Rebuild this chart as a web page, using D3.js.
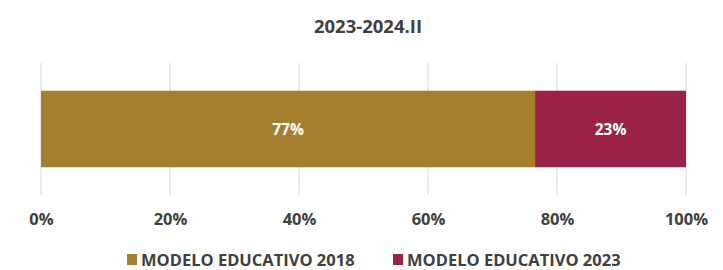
<!DOCTYPE html>
<html>
<head>
<meta charset="utf-8">
<script src="https://cdn.jsdelivr.net/npm/d3@7"></script>
<style>
  body { margin: 0; background: #fff; }
  svg { font-family: "Open Sans", sans-serif; font-weight: bold; }
</style>
</head>
<body>
<svg id="chart"></svg>
<script>
const title = "2023-2024.II";
const seriesNames = ["MODELO EDUCATIVO 2018", "MODELO EDUCATIVO 2023"];
const seriesValues = [76.6, 23.4];
const seriesLabels = ["77%", "23%"];
const seriesColors = ["#A57F2D", "#9A2246"];
const xTicks = [0, 20, 40, 60, 80, 100];

const width = 723, height = 270;
const margin = { top: 63, right: 37, bottom: 75, left: 41 };

const svg = d3.select("#chart").attr("width", width).attr("height", height);

const x = d3.scaleLinear().domain([0, 100]).range([margin.left, width - margin.right]);
const y = d3.scaleBand().domain(["row"]).range([margin.top, height - margin.bottom]).paddingInner(0.42).paddingOuter(0.21);

svg.append("text")
  .attr("x", 368).attr("y", 33)
  .attr("text-anchor", "middle")
  .attr("font-size", 18.5)
  .attr("fill", "#404040")
  .text(title);

// gridlines
svg.append("g")
  .selectAll("line")
  .data(xTicks)
  .join("line")
  .attr("x1", d => x(d)).attr("x2", d => x(d))
  .attr("y1", margin.top).attr("y2", height - margin.bottom)
  .attr("stroke", "#d9d9d9").attr("stroke-width", 1);

// stacked segments
let acc = 0;
const segs = seriesValues.map((v, i) => {
  const s = { start: acc, end: acc + v, i };
  acc += v;
  return s;
});

svg.append("g")
  .selectAll("rect")
  .data(segs)
  .join("rect")
  .attr("x", d => x(d.start))
  .attr("width", d => x(d.end) - x(d.start))
  .attr("y", y("row"))
  .attr("height", y.bandwidth())
  .attr("fill", d => seriesColors[d.i]);

svg.append("g")
  .selectAll("text")
  .data(segs)
  .join("text")
  .attr("x", d => (x(d.start) + x(d.end)) / 2)
  .attr("y", y("row") + y.bandwidth() / 2)
  .attr("dy", "0.36em")
  .attr("text-anchor", "middle")
  .attr("font-size", 15.5)
  .attr("fill", "#fff")
  .text(d => seriesLabels[d.i]);

// x axis
const xAxis = d3.axisBottom(x).tickValues(xTicks).tickFormat(d => d + "%").tickSize(0).tickPadding(0);
const gx = svg.append("g")
  .attr("transform", `translate(0,${height - margin.bottom})`)
  .call(xAxis);
gx.select(".domain").remove();
gx.selectAll("text")
  .attr("y", 30)
  .attr("dy", 0)
  .attr("font-size", 16.5)
  .attr("font-family", "Open Sans, sans-serif")
  .attr("font-weight", "bold")
  .attr("fill", "#404040");

// legend
const legendX = [127, 393];
const lg = svg.append("g")
  .selectAll("g")
  .data(seriesNames)
  .join("g")
  .attr("transform", (d, i) => `translate(${legendX[i]},254)`);
lg.append("rect")
  .attr("width", 10).attr("height", 11)
  .attr("fill", (d, i) => seriesColors[i]);
lg.append("text")
  .attr("x", 14).attr("y", 12)
  .attr("font-size", 16.5)
  .attr("fill", "#404040")
  .text(d => d);
</script>
</body>
</html>
